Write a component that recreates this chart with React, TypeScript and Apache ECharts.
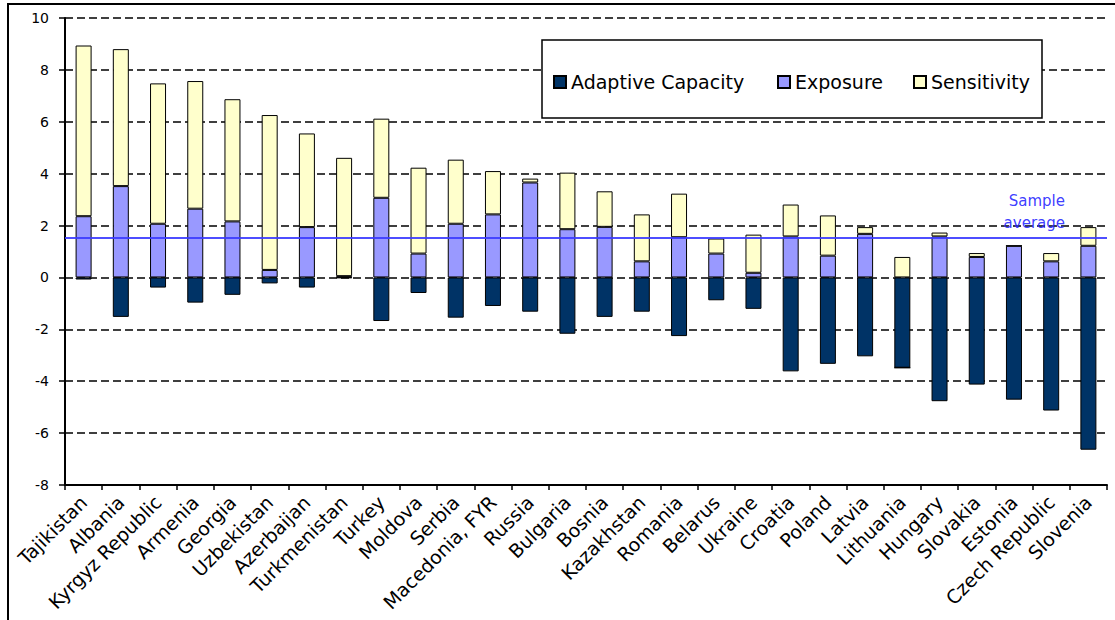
import React, { useEffect, useRef } from "react";
import * as echarts from "echarts";

const categories = [
  "Tajikistan", "Albania", "Kyrgyz Republic", "Armenia", "Georgia", "Uzbekistan",
  "Azerbaijan", "Turkmenistan", "Turkey", "Moldova", "Serbia", "Macedonia, FYR",
  "Russia", "Bulgaria", "Bosnia", "Kazakhstan", "Romania", "Belarus", "Ukraine",
  "Croatia", "Poland", "Latvia", "Lithuania", "Hungary", "Slovakia", "Estonia",
  "Czech Republic", "Slovenia",
];

const adaptiveCapacity = [
  -0.08, -1.52, -0.39, -0.97, -0.67, -0.23, -0.39, -0.02, -1.68, -0.6, -1.55, -1.1,
  -1.32, -2.17, -1.52, -1.32, -2.26, -0.88, -1.21, -3.62, -3.33, -3.04, -3.48, -4.77,
  -4.13, -4.71, -5.13, -6.64,
];

const exposure = [
  2.36, 3.52, 2.07, 2.65, 2.16, 0.29, 1.94, 0.05, 3.07, 0.92, 2.07, 2.43, 3.66, 1.86,
  1.95, 0.62, 1.55, 0.92, 0.18, 1.58, 0.84, 1.68, 0, 1.58, 0.79, 1.22, 0.62, 1.22,
];

const sensitivity = [
  6.58, 5.28, 5.41, 4.92, 4.71, 5.97, 3.61, 4.56, 3.05, 3.31, 2.47, 1.67, 0.15, 2.18,
  1.37, 1.81, 1.68, 0.58, 1.47, 1.23, 1.55, 0.26, 0.79, 0.15, 0.15, 0, 0.32, 0.72,
];

const sampleAverage = 1.52;
const yTicks = { min: -8, max: 10, interval: 2 };

const FONT = "DejaVu Sans";

export default function App() {
  const ref = useRef<HTMLDivElement>(null);

  useEffect(() => {
    document.body.style.margin = "0";
    if (!ref.current) return;
    const chart = echarts.init(ref.current, undefined, { renderer: "svg" });

    const barBase = {
      type: "bar" as const,
      stack: "total",
      barWidth: 16,
      itemStyle: { borderColor: "#000", borderWidth: 1 },
    };

    const legendCommon = {
      top: 72,
      padding: 0,
      itemWidth: 12,
      itemHeight: 12,
      itemGap: 20,
      icon: "rect",
      selectedMode: false,
      textStyle: { fontFamily: FONT, fontSize: 19, color: "#000", lineHeight: 20 },
    };

    chart.setOption({
      animation: false,
      backgroundColor: "#fff",
      grid: { left: 65, right: 8, top: 18, bottom: 135, containLabel: false },
      legend: [
        { ...legendCommon, left: 553, data: ["Adaptive Capacity"] },
        { ...legendCommon, left: 777, data: ["Exposure"] },
        { ...legendCommon, left: 913, data: ["Sensitivity"] },
      ],
      graphic: [
        {
          type: "rect",
          z: 3,
          shape: { x: 542, y: 40, width: 500, height: 78 },
          style: { fill: "#fff", stroke: "#000", lineWidth: 1.5 },
        },
        {
          type: "rect",
          z: 10,
          silent: true,
          shape: { x: 8, y: 4, width: 1200, height: 700 },
          style: { fill: "none", stroke: "#000", lineWidth: 2 },
        },
      ],
      xAxis: {
        type: "category",
        data: categories,
        axisLine: { onZero: false, lineStyle: { color: "#000", width: 2 } },
        axisTick: { show: true, length: 5, lineStyle: { color: "#000", width: 1.5 } },
        axisLabel: {
          interval: 0,
          rotate: 45,
          margin: 14,
          fontFamily: FONT,
          fontSize: 19,
          color: "#000",
        },
      },
      yAxis: {
        type: "value",
        min: yTicks.min,
        max: yTicks.max,
        interval: yTicks.interval,
        axisLine: { show: true, lineStyle: { color: "#000", width: 2 } },
        axisTick: { show: true, length: 6, lineStyle: { color: "#000", width: 1.5 } },
        axisLabel: { margin: 16, fontFamily: FONT, fontSize: 14, color: "#000" },
        splitLine: {
          show: true,
          lineStyle: { color: "#000", width: 1.5, type: [8, 4] },
        },
      },
      series: [
        {
          ...barBase,
          name: "Adaptive Capacity",
          data: adaptiveCapacity,
          itemStyle: { ...barBase.itemStyle, color: "#003366" },
        },
        {
          ...barBase,
          name: "Exposure",
          data: exposure,
          itemStyle: { ...barBase.itemStyle, color: "#9999ff" },
        },
        {
          ...barBase,
          name: "Sensitivity",
          data: sensitivity,
          itemStyle: { ...barBase.itemStyle, color: "#ffffcc" },
          markLine: {
            silent: true,
            symbol: ["none", "none"],
            lineStyle: { color: "#3b3bff", width: 2, type: "solid", opacity: 0.9 },
            label: {
              show: true,
              position: "insideEndTop",
              formatter: "Sample\naverage",
              color: "#2626ff",
              fontFamily: FONT,
              fontSize: 15,
              lineHeight: 22,
              distance: 4,
              padding: [0, 38, 0, 0],
            },
            data: [{ yAxis: sampleAverage }],
          },
        },
      ],
    });

    return () => chart.dispose();
  }, []);

  return <div ref={ref} style={{ width: 1115, height: 620 }} />;
}
